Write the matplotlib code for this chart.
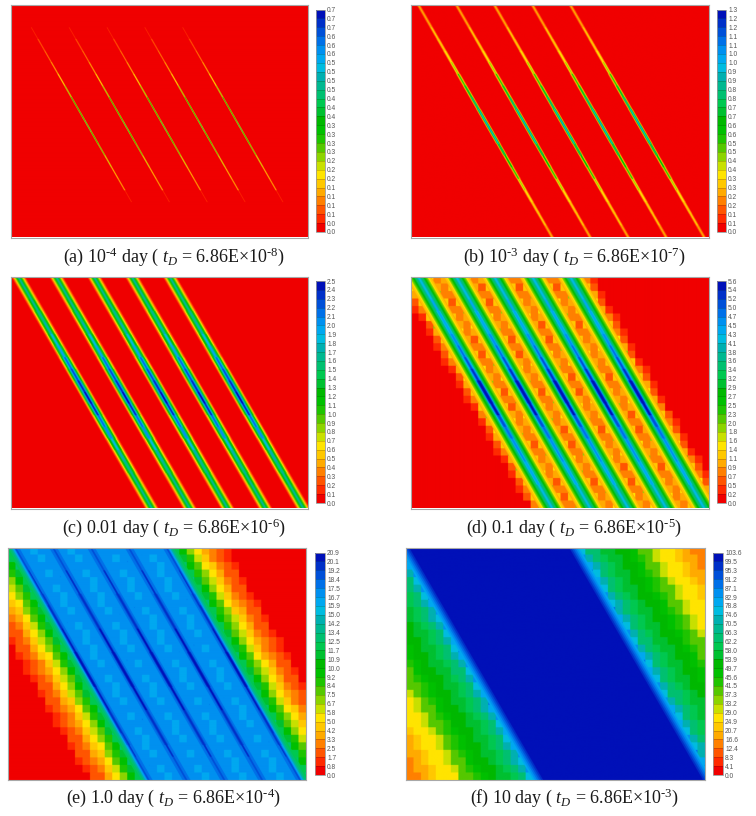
import numpy as np
import matplotlib
matplotlib.use('Agg')
import matplotlib.pyplot as plt
from matplotlib.colors import ListedColormap, BoundaryNorm

plt.rcParams['mathtext.fontset'] = 'custom'
plt.rcParams['mathtext.rm'] = 'Liberation Serif'
plt.rcParams['mathtext.it'] = 'Liberation Serif:italic'

# fractures, as fraction of the panel width, and their drift over the height
fracture_tops = [0.023, 0.150, 0.277, 0.404, 0.531]
fracture_drift = 0.449

captions = [
    r'(a) 10$^{‐4}$ day ( $t_D$ = 6.86E×10$^{‐8}$)',
    r'(b) 10$^{‐3}$ day ( $t_D$ = 6.86E×10$^{‐7}$)',
    r'(c) 0.01 day ( $t_D$ = 6.86E×10$^{‐6}$)',
    r'(d) 0.1 day ( $t_D$ = 6.86E×10$^{‐5}$)',
    r'(e) 1.0 day ( $t_D$ = 6.86E×10$^{‐4}$)',
    r'(f) 10 day ( $t_D$ = 6.86E×10$^{‐3}$)',
]

# colour bar labels, top to bottom
labels_a = '0.7 0.7 0.7 0.6 0.6 0.6 0.5 0.5 0.5 0.5 0.4 0.4 0.4 0.3 0.3 0.3 0.3 0.2 0.2 0.2 0.1 0.1 0.1 0.1 0.0 0.0'.split()
labels_b = '1.3 1.2 1.2 1.1 1.1 1.0 1.0 0.9 0.9 0.8 0.8 0.7 0.7 0.6 0.6 0.5 0.5 0.4 0.4 0.3 0.3 0.2 0.2 0.1 0.1 0.0'.split()
labels_c = '2.5 2.4 2.3 2.2 2.1 2.0 1.9 1.8 1.7 1.6 1.5 1.4 1.3 1.2 1.1 1.0 0.9 0.8 0.7 0.6 0.5 0.4 0.3 0.2 0.1 0.0'.split()
labels_d = '5.6 5.4 5.2 5.0 4.7 4.5 4.3 4.1 3.8 3.6 3.4 3.2 2.9 2.7 2.5 2.3 2.0 1.8 1.6 1.4 1.1 0.9 0.7 0.5 0.2 0.0'.split()
labels_e = '20.9 20.1 19.2 18.4 17.5 16.7 15.9 15.0 14.2 13.4 12.5 11.7 10.9 10.0 9.2 8.4 7.5 6.7 5.8 5.0 4.2 3.3 2.5 1.7 0.8 0.0'.split()
labels_f = '103.6 99.5 95.3 91.2 87.1 82.9 78.8 74.6 70.5 66.3 62.2 58.0 53.9 49.7 45.6 41.5 37.3 33.2 29.0 24.9 20.7 16.6 12.4 8.3 4.1 0.0'.split()
top_values = [0.68, 1.3, 2.5, 5.6, 20.9, 103.6]

# value against distance from the fracture (px across the panel)
dist_a = [0, 0.4, 0.8]
prof_a = [1.0, 0.5, 0.0]
dist_b = [0, 0.5, 1.0, 1.5, 2.0, 2.5]
prof_b = [1.0, 0.8, 0.55, 0.3, 0.12, 0.0]
dist_c = [0, 1, 2, 3, 4, 5, 6, 7]
prof_c = [1.0, 0.85, 0.68, 0.55, 0.36, 0.2, 0.07, 0.0]
dist_d = [0, 1, 2, 3, 4, 5, 6, 7, 8, 9, 10, 12, 14, 16, 18]
prof_d = [4.9, 4.6, 4.0, 3.5, 3.1, 2.7, 2.4, 2.1, 1.8, 1.5, 1.2, 0.9, 0.75, 0.7, 0.55]
outer_dist_d = [0, 1, 2, 3, 4, 5, 6, 7, 8, 9, 10, 12, 14, 16, 19, 23]
outer_prof_d = [4.9, 4.6, 4.0, 3.5, 3.1, 2.7, 2.4, 2.1, 1.8, 1.5, 1.2, 0.9, 0.75, 0.6, 0.3, 0.0]
dist_e = [0, 1, 2, 3, 4, 6, 9, 13, 16]
prof_e = [20.0, 18.8, 18.0, 17.7, 17.5, 17.3, 17.1, 16.9, 16.5]
outer_dist_e = [0, 1, 2, 3, 4, 5, 7, 10, 13, 16, 19, 22, 25, 28, 32, 36, 40, 45, 50, 55, 60, 66]
outer_prof_e = [19.5, 18.0, 16.0, 14.5, 13.5, 13.0, 12.0, 11.0, 10.0, 9.0, 8.0, 7.5, 6.5, 5.5, 4.8, 4.0, 3.3, 2.5, 1.8, 1.2, 0.7, 0.0]
dist_f = [0]
prof_f = [103.0]
outer_dist_f = [0, 2, 4, 6, 8, 10, 12, 14, 17, 22, 30, 37, 48, 60, 67, 73, 83, 90, 97, 105, 113, 125]
outer_prof_f = [103, 100, 96, 92, 88, 84, 80, 76, 72, 66, 60, 55, 50, 47, 42, 38, 31, 28, 26, 22, 19, 16]

# strength along the fracture, top to bottom in twenty bands
along_a = [0, 0, 0.05, 0.08, 0.1, 0.13, 0.17, 0.22, 0.3, 0.35, 0.37, 0.33, 0.27, 0.2, 0.15, 0.11, 0.05, 0, 0, 0]
along_b = [0.25, 0.25, 0.27, 0.3, 0.36, 0.42, 0.55, 0.7, 0.85, 0.97, 1.0, 0.95, 0.8, 0.65, 0.52, 0.42, 0.35, 0.3, 0.27, 0.25]
along_c = [1.6, 1.6, 1.62, 1.67, 1.75, 1.85, 1.98, 2.12, 2.27, 2.4, 2.45, 2.35, 2.17, 2.02, 1.88, 1.78, 1.7, 1.63, 1.6, 1.6]
along_d = [0.86, 0.86, 0.87, 0.88, 0.9, 0.93, 0.97, 1.02, 1.07, 1.12, 1.13, 1.1, 1.05, 1.0, 0.95, 0.92, 0.9, 0.88, 0.86, 0.86]
along_e = [0.96, 0.96, 0.97, 0.97, 0.98, 0.99, 1.0, 1.01, 1.02, 1.03, 1.03, 1.03, 1.02, 1.01, 1.0, 0.99, 0.98, 0.97, 0.96, 0.96]
along_f = [1.0] * 20

band_colors = ['#f00000', '#ff2a00', '#ff5500', '#ff8000', '#ffaa00',
               '#ffc800', '#ffe400', '#c8e000', '#8cd400', '#55c800',
               '#1ec400', '#00c000', '#00b800', '#00c030', '#00c850',
               '#00c070', '#00b890', '#00b0b0', '#00bce0', '#00a8f0',
               '#0090f0', '#0070e8', '#0050d8', '#0030c8', '#0010b8']

# left, top, right, bottom in px
panel_boxes = [(10.5, 5, 308, 237.5), (410.5, 5, 709, 237.5),
               (10.5, 276.5, 308, 508.5), (411, 276.5, 709, 508.5),
               (8, 547.5, 306, 780), (406, 547.5, 704.5, 780)]
bar_boxes = [(316, 9.5, 325, 232), (716.5, 9.5, 726, 232),
             (315.5, 281, 325, 503), (716.5, 281, 726, 503),
             (315, 552.5, 325, 775), (713, 552.5, 723, 775)]
caption_pos = [(174, 257), (574.5, 257), (174, 528), (574, 528), (173.5, 798), (574, 798)]

W, H = 756, 816
cmap = ListedColormap(band_colors)


def px_axes(fig, box):
    l, t, r, b = box
    return fig.add_axes([l / W, 1 - b / H, (r - l) / W, (b - t) / H])


def nearest(u, v):
    centres = np.array(fracture_tops)[:, None, None] + fracture_drift * v
    d = np.abs(u - centres).min(axis=0) * 298
    outside = (u < centres[0]) | (u > centres[-1])
    return d, outside


def lookup(d, dist, prof):
    i = np.searchsorted(dist, d, side='right') - 1
    return np.array(prof)[i]


def build_field(dist, prof, along, outer_dist=None, outer_prof=None, fine_within=None, core=None):
    ny, nx = 928, 1192
    v, u = np.meshgrid((np.arange(ny) + 0.5) / ny, (np.arange(nx) + 0.5) / nx, indexing='ij')
    d, outside = nearest(u, v)
    if fine_within is not None:
        # the simulation grid is coarse away from the fractures
        uc = (np.floor(u * 40) + 0.5) / 40
        vc = (np.floor(v * 31) + 0.5) / 31
        dc, _ = nearest(uc, vc)
        d = np.where(d >= fine_within, dc, d)
    z = lookup(d, dist, prof)
    if outer_dist is not None:
        z = np.where(outside, lookup(d, outer_dist, outer_prof), z)
    band = np.minimum((v * 20).astype(int), 19)
    strength = np.array(along)[band]
    if core is not None:
        strength = np.where(d < core, strength, 1.0)
    return z * strength


fields = [
    build_field(dist_a, prof_a, along_a),
    build_field(dist_b, prof_b, along_b),
    build_field(dist_c, prof_c, along_c),
    build_field(dist_d, prof_d, along_d, outer_dist_d, outer_prof_d, fine_within=13, core=3),
    build_field(dist_e, prof_e, along_e, outer_dist_e, outer_prof_e, fine_within=9, core=2),
    build_field(dist_f, prof_f, along_f, outer_dist_f, outer_prof_f, fine_within=14),
]
bar_labels = [labels_a, labels_b, labels_c, labels_d, labels_e, labels_f]

fig = plt.figure(figsize=(W / 100, H / 100), dpi=100)

for i in range(6):
    ax = px_axes(fig, panel_boxes[i])
    edges = np.linspace(0, top_values[i], 26)
    norm = BoundaryNorm(edges, cmap.N, clip=True)
    im = ax.imshow(fields[i], cmap=cmap, norm=norm, aspect='auto',
                   interpolation='hanning', interpolation_stage='rgba')
    ax.set_xticks([])
    ax.set_yticks([])
    for s in ax.spines.values():
        s.set_color('#a8a8a8')
        s.set_linewidth(0.8)

    cax = px_axes(fig, bar_boxes[i])
    cb = fig.colorbar(im, cax=cax, ticks=edges, spacing='uniform', drawedges=True)
    cb.ax.set_yticklabels(bar_labels[i][::-1], fontsize=4.8, color='#555555', family='Liberation Sans')
    cb.ax.tick_params(length=0, pad=1.5)
    cb.outline.set_edgecolor('#999999')
    cb.outline.set_linewidth(0.6)
    cb.dividers.set_color('#000000')
    cb.dividers.set_alpha(0.3)
    cb.dividers.set_linewidth(0.4)

    x, y = caption_pos[i]
    fig.text(x / W, 1 - y / H, captions[i], ha='center', va='center',
             family='Liberation Serif', fontsize=13, color='#1a1a1a')

fig.savefig('out.png', dpi=100)
